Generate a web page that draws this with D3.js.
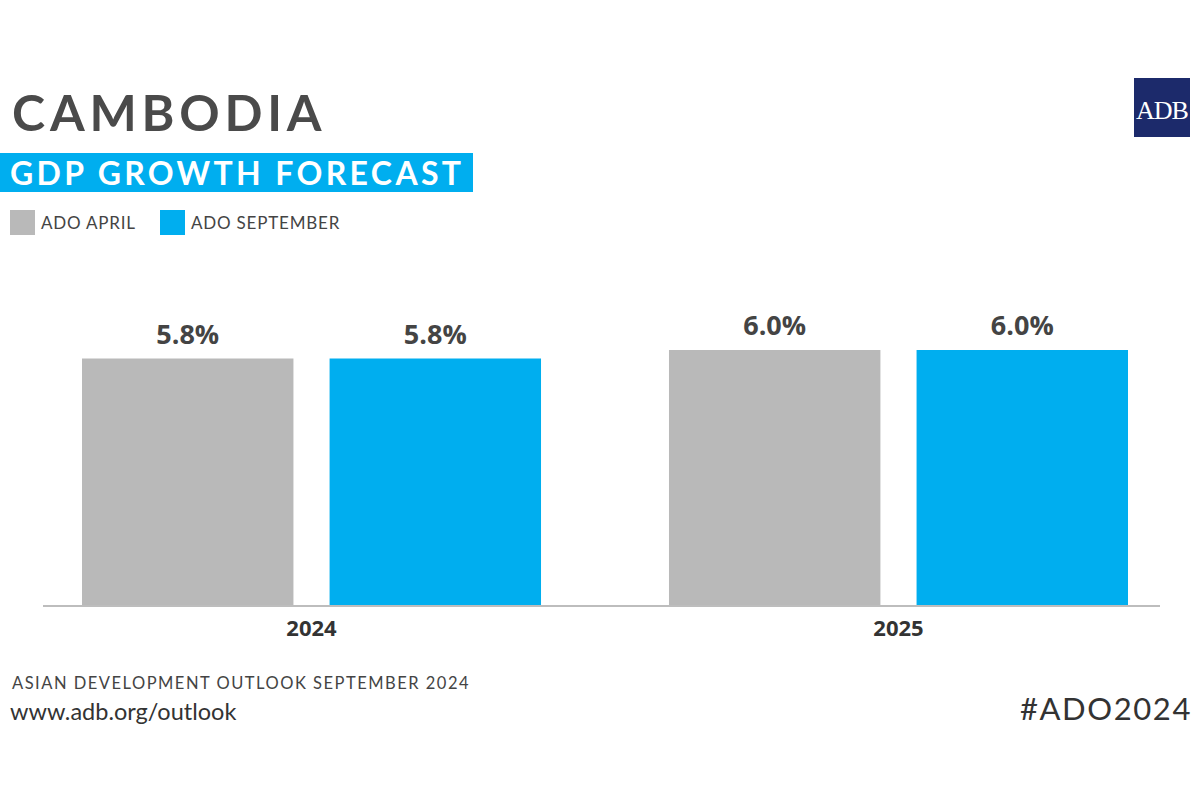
<!DOCTYPE html>
<html><head><meta charset="utf-8">
<script src="https://cdn.jsdelivr.net/npm/d3@7"></script>
<style>
html,body{margin:0;padding:0;background:#fff;}
svg{display:block;}
</style>
</head><body>
<script>
const years = ["2024", "2025"];
const seriesNames = ["ADO APRIL", "ADO SEPTEMBER"];
const adoApril = [5.8, 6.0];
const adoSeptember = [5.8, 6.0];
const valueLabels = [["5.8%", "5.8%"], ["6.0%", "6.0%"]];
const colors = ["#b9b9b9", "#00aeef"];

const W = 1200, H = 800;
const svg = d3.select("body").append("svg").attr("width", W).attr("height", H);
svg.append("rect").attr("width", W).attr("height", H).attr("fill", "#fff");

// Title
svg.append("text").attr("x", 12).attr("y", 131)
  .attr("font-family", "Lato, sans-serif").attr("font-weight", 700)
  .attr("font-size", 50).attr("letter-spacing", 4.8).attr("fill", "#4a4a4a")
  .text("CAMBODIA");

// Banner
svg.append("rect").attr("x", 0).attr("y", 153).attr("width", 473).attr("height", 39).attr("fill", "#00aeef");
svg.append("text").attr("x", 10).attr("y", 185)
  .attr("font-family", "Lato, sans-serif").attr("font-weight", 700)
  .attr("font-size", 32).attr("letter-spacing", 3.35).attr("fill", "#fff")
  .text("GDP GROWTH FORECAST");

// Legend
const legX = [10, 160];
seriesNames.forEach((s, i) => {
  svg.append("rect").attr("x", legX[i]).attr("y", 210).attr("width", 25).attr("height", 25).attr("fill", colors[i]);
  svg.append("text").attr("x", legX[i] + 31).attr("y", 229)
    .attr("font-family", "Lato, sans-serif").attr("font-weight", 400)
    .attr("font-size", 17).attr("letter-spacing", 0.8).attr("fill", "#444")
    .text(s);
});

// ADB logo
svg.append("rect").attr("x", 1134).attr("y", 78).attr("width", 56).attr("height", 59).attr("fill", "#1c2a6b");
svg.append("text").attr("x", 1162).attr("y", 119).attr("text-anchor", "middle")
  .attr("font-family", "Liberation Serif, serif").attr("font-size", 26).attr("fill", "#fff")
  .attr("letter-spacing", -1)
  .text("ADB");

// Scales
const x0 = d3.scaleBand().domain(years).range([82, 1128]).paddingInner(0.218).paddingOuter(0);
const x1 = d3.scaleBand().domain(seriesNames).range([0, x0.bandwidth()]).paddingInner(0.146).paddingOuter(0);
const y = d3.scaleLinear().domain([0, 6.0]).range([605, 350]);

const data = years.map((yr, i) => ({year: yr, values: [adoApril[i], adoSeptember[i]]}));

const g = svg.append("g");
data.forEach((d, gi) => {
  d.values.forEach((v, si) => {
    const bx = x0(d.year) + x1(seriesNames[si]);
    g.append("rect").attr("x", bx).attr("y", y(v)).attr("width", x1.bandwidth())
      .attr("height", y(0) - y(v)).attr("fill", colors[si]);
    g.append("text").attr("x", bx + x1.bandwidth() / 2).attr("y", y(v) - 15)
      .attr("text-anchor", "middle")
      .attr("font-family", "Open Sans, sans-serif").attr("font-weight", 700)
      .attr("font-size", 27).attr("fill", "#444")
      .text(valueLabels[gi][si]);
  });
});

// Axis
const axis = d3.axisBottom(x0).tickSize(0).tickPadding(20);
const ax = svg.append("g").attr("transform", "translate(0,605)").call(axis);
ax.select(".domain").remove();
svg.append("line").attr("x1", 43).attr("x2", 1160).attr("y1", 606).attr("y2", 606)
  .attr("stroke", "#bdbdbd").attr("stroke-width", 2);
ax.selectAll("text").attr("font-family", "Open Sans, sans-serif").attr("font-weight", 700)
  .attr("font-size", 22).attr("fill", "#333").attr("dy", "0.71em").attr("y", 15);

// Footer
svg.append("text").attr("x", 12).attr("y", 689)
  .attr("font-family", "Lato, sans-serif").attr("font-size", 16.5).attr("letter-spacing", 1.5)
  .attr("fill", "#444").text("ASIAN DEVELOPMENT OUTLOOK SEPTEMBER 2024");
svg.append("text").attr("x", 10).attr("y", 720)
  .attr("font-family", "Lato, sans-serif").attr("font-size", 23.5)
  .attr("fill", "#333").text("www.adb.org/outlook");
svg.append("text").attr("x", 1192).attr("y", 720).attr("text-anchor", "end")
  .attr("font-family", "Lato, sans-serif").attr("font-size", 31).attr("letter-spacing", 1.6)
  .attr("fill", "#333").text("#ADO2024");
</script>
</body></html>
